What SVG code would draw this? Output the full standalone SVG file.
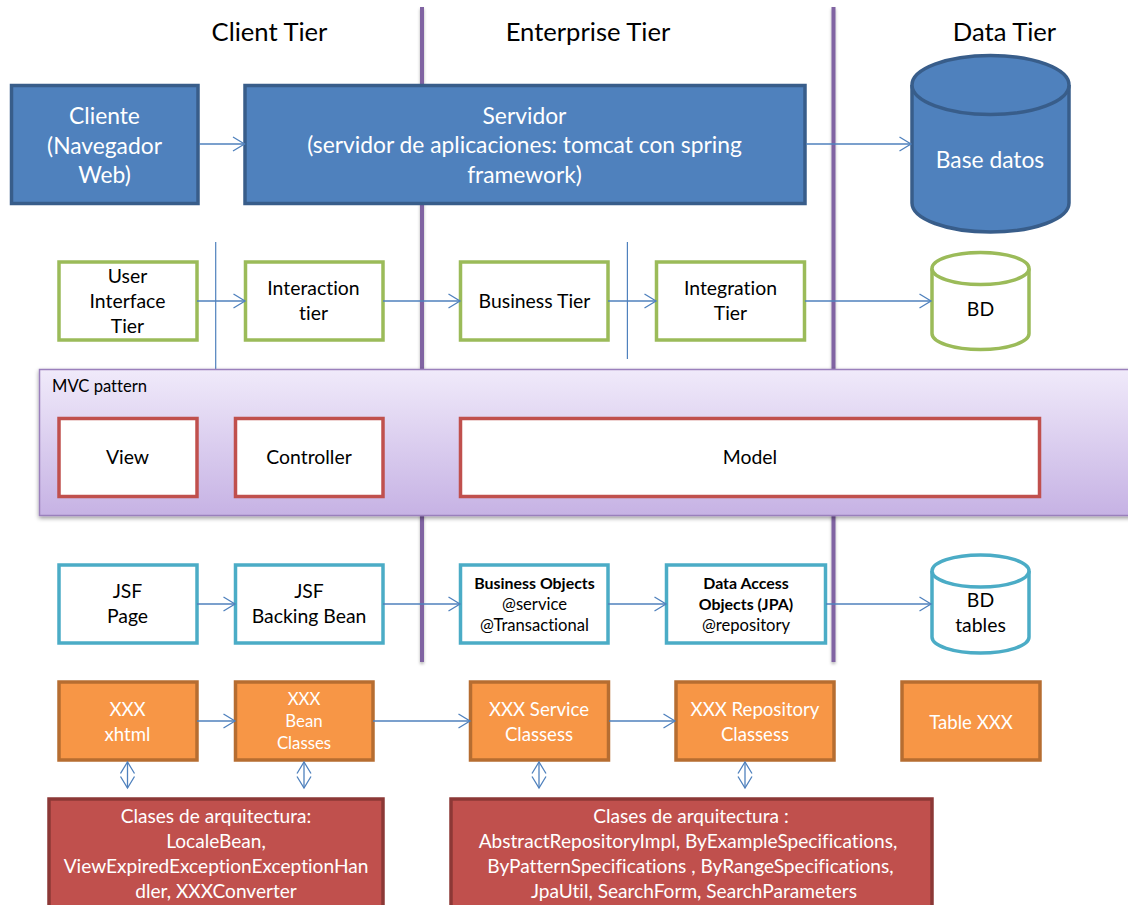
<svg xmlns="http://www.w3.org/2000/svg" width="1128" height="905" viewBox="0 0 1128 905">
<style>
text{font-family:Lato,"Liberation Sans",sans-serif;text-anchor:middle;font-size:19.4px;fill:#000;font-variant-ligatures:none}
.t{font-size:25.6px}
.w text{fill:#fff}
.blue text{font-size:22.8px}
.orange text{font-size:18.6px}
.orange text.s{font-size:16.8px}
.dark text{font-size:19.1px}
.b{font-size:15.9px;font-weight:700}
.m{font-size:16.6px}
.blue rect,.blue path,.blue ellipse{fill:#4f81bd;stroke:#385d8a;stroke-width:3.5}
.green rect,.green path,.green ellipse{fill:#fff;stroke:#9bbb59;stroke-width:3.5}
.red rect{fill:#fff;stroke:#c0504d;stroke-width:3.5}
.cyan rect,.cyan path,.cyan ellipse{fill:#fff;stroke:#4bacc6;stroke-width:3.5}
.orange rect{fill:#f79646;stroke:#b66d31;stroke-width:3.5}
.dark rect{fill:#c0504d;stroke:#8c3836;stroke-width:3.5}
.c line{stroke:#4f81bd;stroke-width:1.3;fill:none}
.a{marker-end:url(#ah)}
.d{marker-end:url(#ah);marker-start:url(#ahs)}
.sep{fill:#8064a2;filter:url(#ls)}
.thin{stroke:#4f81bd;stroke-width:1.2}
</style>
<defs>
<marker id="ah" markerUnits="userSpaceOnUse" markerWidth="16" markerHeight="18" refX="12.5" refY="8" orient="auto"><path d="M1 1L12.5 8L1 15" fill="none" stroke="#4f81bd" stroke-width="1.3"/></marker>
<marker id="ahs" markerUnits="userSpaceOnUse" markerWidth="16" markerHeight="18" refX="12.5" refY="8" orient="auto-start-reverse"><path d="M1 1L12.5 8L1 15" fill="none" stroke="#4f81bd" stroke-width="1.3"/></marker>
<linearGradient id="mvc" x1="0" y1="0" x2="0" y2="1"><stop offset="0" stop-color="#f0eafa"/><stop offset="1" stop-color="#c6b2e4"/></linearGradient>
<filter id="sh" x="-2%" y="-5%" width="104%" height="112%"><feDropShadow dx="0" dy="2" stdDeviation="2" flood-color="#000" flood-opacity=".4"/></filter>
<filter id="ls" x="-100%" y="-1%" width="300%" height="102%"><feDropShadow dx="0" dy="2" stdDeviation="1.5" flood-color="#000" flood-opacity=".3"/></filter>
</defs>
<rect width="1128" height="905" fill="#fff"/>
<g id="tier-separators">
<rect class="sep" x="420" y="7" width="4" height="655"/>
<rect class="sep" x="831.500" y="7" width="4" height="655"/>
<line class="thin" x1="215.700" y1="242" x2="215.700" y2="369"/>
<line class="thin" x1="627.400" y1="242" x2="627.400" y2="359"/>
</g>
<g id="titles">
<text class="t" x="269.500" y="40.500">Client Tier</text>
<text class="t" x="588" y="40.500">Enterprise Tier</text>
<text class="t" x="1004.500" y="40.500">Data Tier</text>
</g>
<g id="mvc-panel">
<rect x="39.500" y="369.500" width="1100" height="146" fill="url(#mvc)" stroke="#9a80bc" stroke-width="1.500" filter="url(#sh)"/>
<text class="m" x="99.500" y="391.500">MVC pattern</text>
</g>
<g id="cliente" class="blue w"><rect x="11.500" y="85.500" width="186.500" height="118"/><text x="104.500" y="124">Cliente</text><text x="104.500" y="153.500">(Navegador</text><text x="104.500" y="183">Web)</text></g>
<g id="servidor" class="blue w"><rect x="245" y="85.500" width="560" height="118"/><text x="524.500" y="124">Servidor</text><text x="524.500" y="153">(servidor de aplicaciones: tomcat con spring</text><text x="524.500" y="183">framework)</text></g>
<g id="base-datos" class="blue w"><path d="M912 85V203A78.500 29 0 0 0 1069 203V85"/><ellipse cx="990.500" cy="85" rx="78.500" ry="29.500"/><text x="990" y="168">Base datos</text></g>
<g id="user-interface" class="green"><rect x="59" y="262" width="138" height="78"/><text x="127.500" y="283">User</text><text x="127.500" y="308">Interface</text><text x="127.500" y="333">Tier</text></g>
<g id="interaction" class="green"><rect x="245.500" y="262" width="137.500" height="78"/><text x="313.500" y="295">Interaction</text><text x="313.500" y="320">tier</text></g>
<g id="business" class="green"><rect x="460.500" y="262" width="147.500" height="78"/><text x="534.500" y="308">Business Tier</text></g>
<g id="integration" class="green"><rect x="656.500" y="262" width="148" height="78"/><text x="730.500" y="295">Integration</text><text x="730.500" y="320">Tier</text></g>
<g id="bd" class="green"><path d="M932 268.500V333.500A48.500 16 0 0 0 1029 333.500V268.500"/><ellipse cx="980.500" cy="268.500" rx="48.500" ry="16"/><text x="980.500" y="316">BD</text></g>
<g id="view" class="red"><rect x="59" y="418.500" width="138" height="78"/><text x="127.500" y="464">View</text></g>
<g id="controller" class="red"><rect x="235.500" y="418.500" width="147.500" height="78"/><text x="309" y="464">Controller</text></g>
<g id="model" class="red"><rect x="460.500" y="418.500" width="579" height="78"/><text x="750" y="464">Model</text></g>
<g id="jsf-page" class="cyan"><rect x="59" y="565" width="138" height="78"/><text x="127.500" y="598">JSF</text><text x="127.500" y="623">Page</text></g>
<g id="jsf-bean" class="cyan"><rect x="235.500" y="565" width="147.500" height="78"/><text x="309" y="598">JSF</text><text x="309" y="623">Backing Bean</text></g>
<g id="business-objects" class="cyan"><rect x="460.500" y="565" width="147.500" height="78"/><text class="b" x="534.500" y="589">Business Objects</text><text class="m" x="534.500" y="610">@service</text><text class="m" x="534.500" y="631">@Transactional</text></g>
<g id="data-access" class="cyan"><rect x="666.500" y="565" width="159" height="78"/><text class="b" x="746" y="589">Data Access</text><text class="b" x="746" y="610">Objects (JPA)</text><text class="m" x="746" y="631">@repository</text></g>
<g id="bd-tables" class="cyan"><path d="M932 571V637A48.500 16 0 0 0 1029 637V571"/><ellipse cx="980.500" cy="571" rx="48.500" ry="16"/><text x="980.500" y="607">BD</text><text x="980.500" y="632">tables</text></g>
<g id="xxx-xhtml" class="orange w"><rect x="59" y="682" width="138" height="78"/><text x="127.500" y="716">XXX</text><text x="127.500" y="741">xhtml</text></g>
<g id="xxx-bean" class="orange w"><rect x="235.500" y="682" width="137.500" height="78"/><text class="s" x="304" y="705">XXX</text><text class="s" x="304" y="727">Bean</text><text class="s" x="304" y="749">Classes</text></g>
<g id="xxx-service" class="orange w"><rect x="470.500" y="682" width="138" height="78"/><text x="539" y="716">XXX Service</text><text x="539" y="741">Classess</text></g>
<g id="xxx-repository" class="orange w"><rect x="676" y="682" width="158" height="78"/><text x="755" y="716">XXX Repository</text><text x="755" y="741">Classess</text></g>
<g id="table-xxx" class="orange w"><rect x="902" y="682" width="138" height="78"/><text x="971" y="728.500">Table XXX</text></g>
<g id="arq-1" class="dark w"><rect x="49" y="799" width="334" height="120"/><text x="216" y="823">Clases de arquitectura:</text><text x="216" y="848">LocaleBean,</text><text x="216" y="873">ViewExpiredExceptionExceptionHan</text><text x="216" y="898">dler, XXXConverter</text></g>
<g id="arq-2" class="dark w"><rect x="451" y="799" width="481" height="120"/><text x="691" y="823">Clases de arquitectura :</text><text x="688" y="848">AbstractRepositoryImpl, ByExampleSpecifications,</text><text x="690.500" y="873">ByPatternSpecifications , ByRangeSpecifications,</text><text x="694" y="898">JpaUtil, SearchForm, SearchParameters</text></g>
<g id="connectors" class="c">
<line class="a" x1="199" y1="144" x2="244.500" y2="144"/>
<line class="a" x1="806" y1="144" x2="911" y2="144"/>
<line class="a" x1="197" y1="301" x2="245" y2="301"/>
<line class="a" x1="383" y1="301" x2="460" y2="301"/>
<line class="a" x1="608" y1="301" x2="656" y2="301"/>
<line class="a" x1="805" y1="301" x2="931" y2="301"/>
<line class="a" x1="197" y1="604" x2="235" y2="604"/>
<line class="a" x1="383" y1="604" x2="460" y2="604"/>
<line class="a" x1="608" y1="604" x2="666" y2="604"/>
<line class="a" x1="826" y1="604" x2="931" y2="604"/>
<line class="a" x1="197" y1="721" x2="235" y2="721"/>
<line class="a" x1="373" y1="721" x2="470" y2="721"/>
<line class="a" x1="609" y1="721" x2="675" y2="721"/>
<line class="d" x1="127.500" y1="762" x2="127.500" y2="788"/>
<line class="d" x1="304" y1="762" x2="304" y2="788"/>
<line class="d" x1="539" y1="762" x2="539" y2="788"/>
<line class="d" x1="745" y1="762" x2="745" y2="788"/>
</g>
</svg>
